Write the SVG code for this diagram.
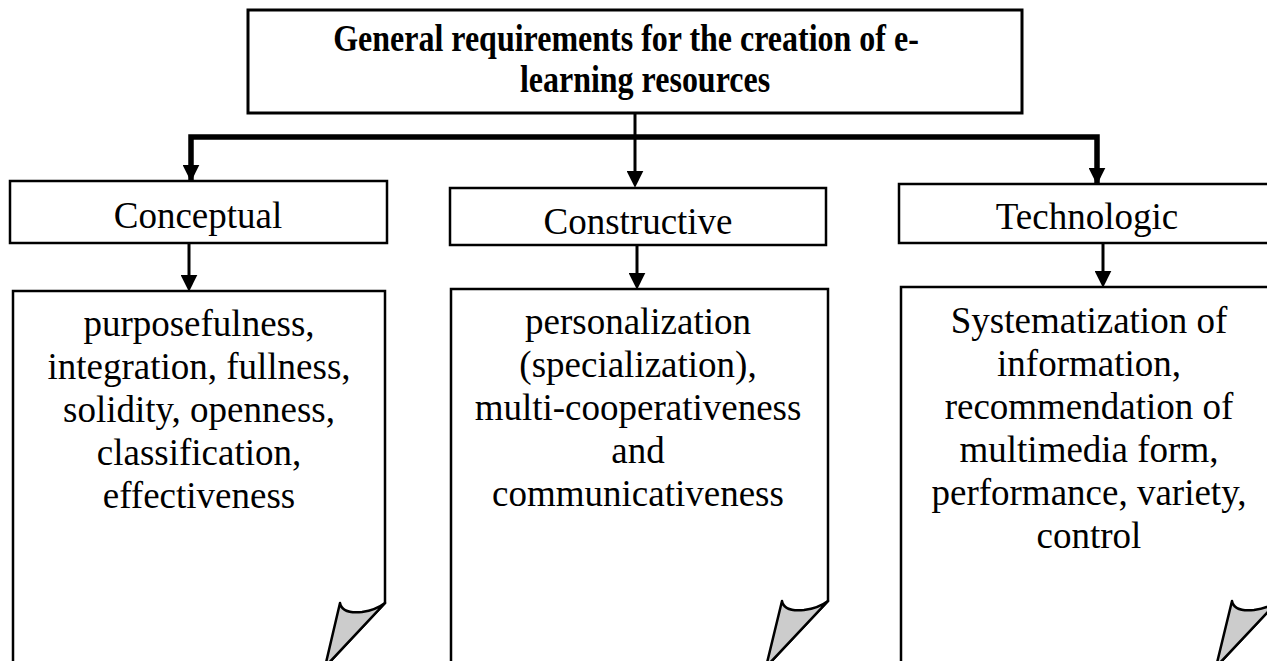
<svg xmlns="http://www.w3.org/2000/svg" width="1267" height="661" viewBox="0 0 1267 661">
  <style>
    .box { fill: #ffffff; stroke: #000000; stroke-width: 2.5; }
    .main { stroke-width: 3; }
    .curl { fill: #cccccc; stroke: #000000; stroke-width: 2.5; stroke-linejoin: round; }
    .wire { fill: none; stroke: #000000; stroke-width: 3; }
    .bar { fill: none; stroke: #000000; stroke-width: 5.5; }
    .head { font-family: "Liberation Serif", "Times New Roman", serif; font-weight: bold; font-size: 32px; text-anchor: middle; fill: #000; }
    .label { font-family: "Liberation Serif", "Times New Roman", serif; font-size: 37px; text-anchor: middle; fill: #000; }
  </style>
  <defs>
    <marker id="arrow" viewBox="0 0 16 16" refX="6" refY="8" markerWidth="17" markerHeight="17" markerUnits="userSpaceOnUse" orient="auto">
      <path d="M0,0 L16,8 L0,16 z" fill="#000"/>
    </marker>
  </defs>
  <rect width="1267" height="661" fill="#ffffff"/>

  <!-- connectors -->
  <g id="connectors">
    <path class="wire" d="M635,113 V177" marker-end="url(#arrow)"/>
    <path class="bar" d="M191,181 V137 H1097 V184"/>
    <path class="wire" d="M191,137 V171" marker-end="url(#arrow)"/>
    <path class="wire" d="M1097,137 V174" marker-end="url(#arrow)"/>
    <path class="wire" d="M189,243 V281" marker-end="url(#arrow)"/>
    <path class="wire" d="M637,245 V279" marker-end="url(#arrow)"/>
    <path class="wire" d="M1103,243 V277" marker-end="url(#arrow)"/>
  </g>

  <!-- root -->
  <g id="root">
    <rect class="box main" x="248" y="10" width="774" height="103"/>
    <text class="head" transform="translate(626,51) scale(1,1.18)">General requirements for the creation of e-</text>
    <text class="head" transform="translate(645,92) scale(1,1.18)">learning resources</text>
  </g>

  <!-- categories -->
  <g id="conceptual">
    <rect class="box" x="10" y="181" width="377" height="62"/>
    <text class="label" x="198" y="228">Conceptual</text>
  </g>
  <g id="constructive">
    <rect class="box" x="450" y="188" width="376" height="57"/>
    <text class="label" x="638" y="234">Constructive</text>
  </g>
  <g id="technologic">
    <rect class="box" x="899" y="184" width="376" height="59"/>
    <text class="label" x="1087" y="229">Technologic</text>
  </g>

  <!-- detail pages with curled corner -->
  <g id="conceptual-details">
    <path class="box" d="M13,670 V291 H385 V603 L325,667"/>
    <path class="curl" d="M340,603 Q342,614 362,612 Q376,610 385,603 L325,667 Z"/>
    <text class="label" x="199" y="336">purposefulness,</text>
    <text class="label" x="199" y="379">integration, fullness,</text>
    <text class="label" x="199" y="422">solidity, openness,</text>
    <text class="label" x="199" y="465">classification,</text>
    <text class="label" x="199" y="508">effectiveness</text>
  </g>
  <g id="constructive-details">
    <path class="box" d="M451,670 V289 H828 V601 L766,667"/>
    <path class="curl" d="M782,601 Q784,612 804,610 Q819,608 828,601 L766,667 Z"/>
    <text class="label" x="638" y="334">personalization</text>
    <text class="label" x="638" y="377">(specialization),</text>
    <text class="label" x="638" y="420">multi-cooperativeness</text>
    <text class="label" x="638" y="463">and</text>
    <text class="label" x="638" y="506">communicativeness</text>
  </g>
  <g id="technologic-details">
    <path class="box" d="M901,670 V287 H1278 V601 L1216,667"/>
    <path class="curl" d="M1232,601 Q1234,612 1254,610 Q1269,608 1278,601 L1216,667 Z"/>
    <text class="label" x="1089" y="333">Systematization of</text>
    <text class="label" x="1089" y="376">information,</text>
    <text class="label" x="1089" y="419">recommendation of</text>
    <text class="label" x="1089" y="462">multimedia form,</text>
    <text class="label" x="1089" y="505">performance, variety,</text>
    <text class="label" x="1089" y="548">control</text>
  </g>
</svg>
